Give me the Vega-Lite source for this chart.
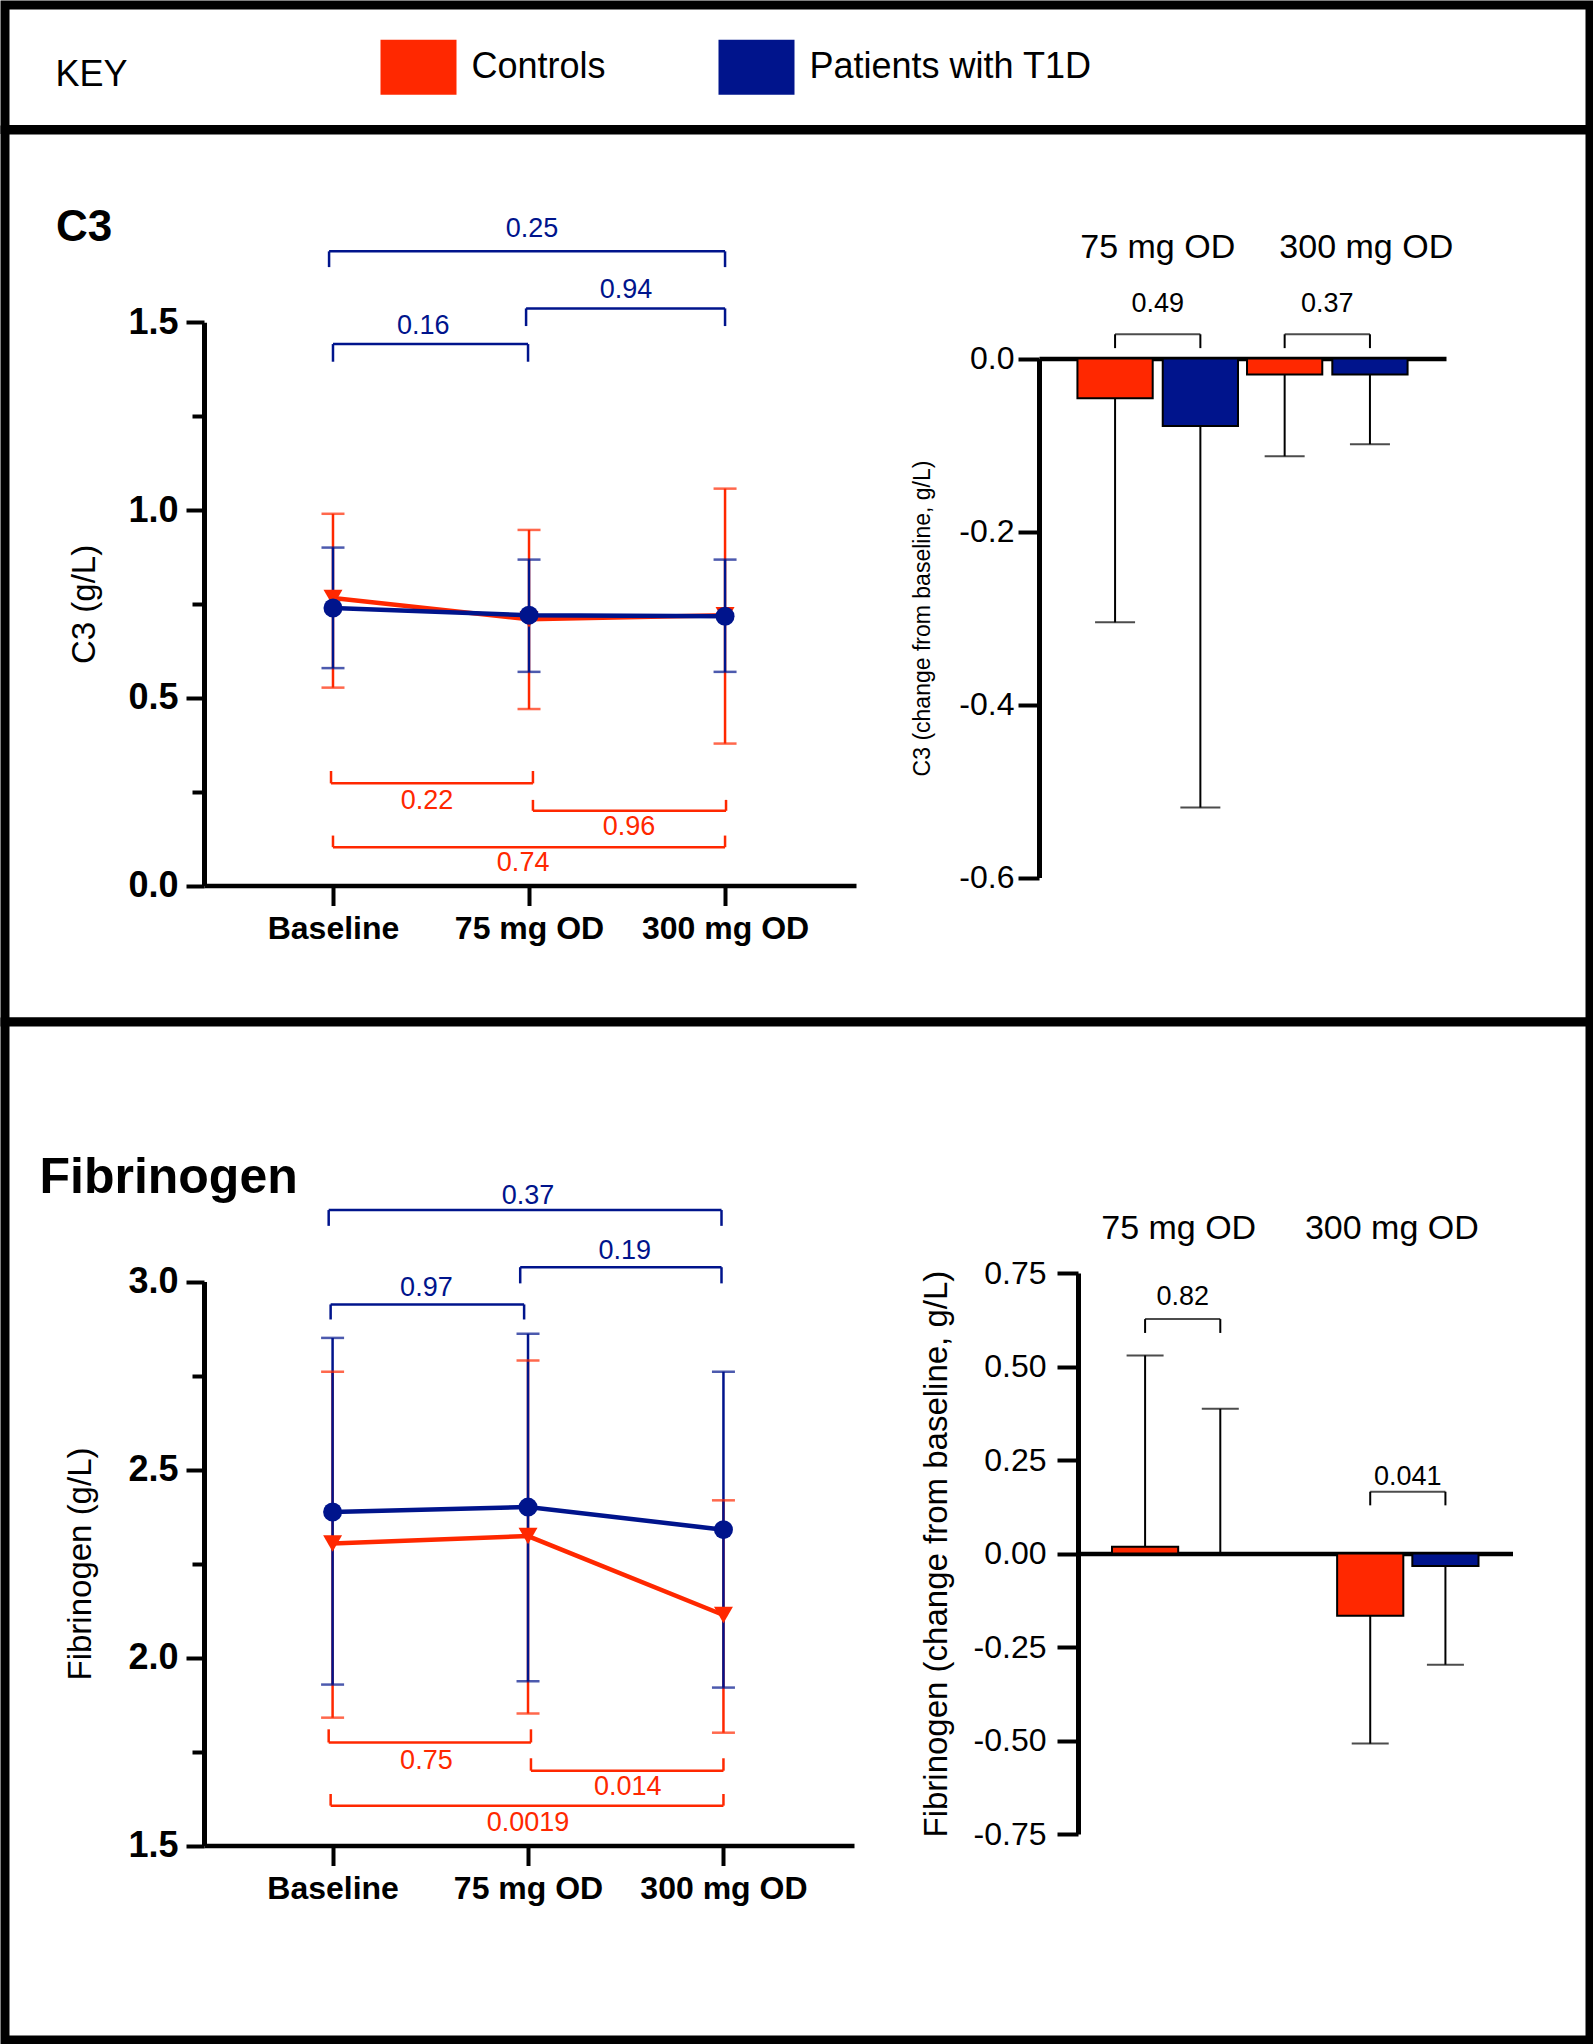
{
  "$schema": "https://vega.github.io/schema/vega-lite/v6.json",
  "padding": 0,
  "spacing": 0,
  "bounds": "flush",
  "background": "white",
  "resolve": {"scale": {"color": "independent", "shape": "independent", "xOffset": "independent"}, "legend": {"color": "independent", "shape": "independent"}},
  "config": {
    "font": "Liberation Sans",
    "axis": {"labelFont": "Liberation Sans", "titleFont": "Liberation Sans", "labelColor": "black", "titleColor": "black", "domainColor": "black", "tickColor": "black", "grid": false, "titleFontWeight": "normal"},
    "text": {"font": "Liberation Sans"}
  },
  "datasets": {
    "groups": [{"group": "Controls"}, {"group": "Patients with T1D"}],
    "c3line": [
      {"t": 0, "group": "Controls", "mean": 0.766, "lo": 0.527, "hi": 0.990},
      {"t": 1, "group": "Controls", "mean": 0.709, "lo": 0.470, "hi": 0.947},
      {"t": 2, "group": "Controls", "mean": 0.720, "lo": 0.378, "hi": 1.057},
      {"t": 0, "group": "Patients with T1D", "mean": 0.739, "lo": 0.579, "hi": 0.900},
      {"t": 1, "group": "Patients with T1D", "mean": 0.720, "lo": 0.569, "hi": 0.868},
      {"t": 2, "group": "Patients with T1D", "mean": 0.717, "lo": 0.569, "hi": 0.868}
    ],
    "c3brk": [
      {"group": "Patients with T1D", "x1": -0.02, "x2": 2.0, "y": 1.689, "yleg": 1.647, "label": "0.25", "xt": 1.015, "yt": 1.749},
      {"group": "Patients with T1D", "x1": 0.985, "x2": 2.0, "y": 1.537, "yleg": 1.49, "label": "0.94", "xt": 1.495, "yt": 1.586},
      {"group": "Patients with T1D", "x1": 0.0, "x2": 0.995, "y": 1.442, "yleg": 1.395, "label": "0.16", "xt": 0.46, "yt": 1.49},
      {"group": "Controls", "x1": -0.01, "x2": 1.02, "y": 0.272, "yleg": 0.305, "label": "0.22", "xt": 0.48, "yt": 0.225},
      {"group": "Controls", "x1": 1.02, "x2": 2.005, "y": 0.199, "yleg": 0.228, "label": "0.96", "xt": 1.51, "yt": 0.155},
      {"group": "Controls", "x1": 0.0, "x2": 2.0, "y": 0.102, "yleg": 0.133, "label": "0.74", "xt": 0.97, "yt": 0.06}
    ],
    "fibline": [
      {"t": 0, "group": "Controls", "mean": 2.303, "lo": 1.84, "hi": 2.76},
      {"t": 1, "group": "Controls", "mean": 2.323, "lo": 1.851, "hi": 2.79},
      {"t": 2, "group": "Controls", "mean": 2.113, "lo": 1.80, "hi": 2.418},
      {"t": 0, "group": "Patients with T1D", "mean": 2.387, "lo": 1.928, "hi": 2.85},
      {"t": 1, "group": "Patients with T1D", "mean": 2.40, "lo": 1.937, "hi": 2.861},
      {"t": 2, "group": "Patients with T1D", "mean": 2.34, "lo": 1.92, "hi": 2.76}
    ],
    "fibbrk": [
      {"group": "Patients with T1D", "x1": -0.02, "x2": 1.99, "y": 3.19, "yleg": 3.148, "label": "0.37", "xt": 1.0, "yt": 3.227},
      {"group": "Patients with T1D", "x1": 0.96, "x2": 1.99, "y": 3.038, "yleg": 2.995, "label": "0.19", "xt": 1.495, "yt": 3.081},
      {"group": "Patients with T1D", "x1": -0.01, "x2": 0.98, "y": 2.939, "yleg": 2.899, "label": "0.97", "xt": 0.48, "yt": 2.982},
      {"group": "Controls", "x1": -0.02, "x2": 1.015, "y": 1.774, "yleg": 1.809, "label": "0.75", "xt": 0.48, "yt": 1.724},
      {"group": "Controls", "x1": 1.015, "x2": 2.0, "y": 1.699, "yleg": 1.732, "label": "0.014", "xt": 1.51, "yt": 1.655},
      {"group": "Controls", "x1": -0.01, "x2": 2.0, "y": 1.606, "yleg": 1.637, "label": "0.0019", "xt": 1.0, "yt": 1.56}
    ],
    "c3bar": [
      {"dose": "75 mg OD", "group": "Controls", "val": -0.046, "err": -0.305},
      {"dose": "75 mg OD", "group": "Patients with T1D", "val": -0.078, "err": -0.519},
      {"dose": "300 mg OD", "group": "Controls", "val": -0.0185, "err": -0.113},
      {"dose": "300 mg OD", "group": "Patients with T1D", "val": -0.0185, "err": -0.099}
    ],
    "c3barbrk": [
      {"dose": "75 mg OD", "group": "Controls", "top": 0.028, "leg": 0.012, "label": "0.49", "ylab": 0.0628},
      {"dose": "75 mg OD", "group": "Patients with T1D", "top": 0.028, "leg": 0.012, "label": "0.49", "ylab": 0.0628},
      {"dose": "300 mg OD", "group": "Controls", "top": 0.028, "leg": 0.012, "label": "0.37", "ylab": 0.0628},
      {"dose": "300 mg OD", "group": "Patients with T1D", "top": 0.028, "leg": 0.012, "label": "0.37", "ylab": 0.0628}
    ],
    "fibbar": [
      {"dose": "75 mg OD", "group": "Controls", "val": 0.018, "err": 0.53},
      {"dose": "75 mg OD", "group": "Patients with T1D", "val": 0.0, "err": 0.387},
      {"dose": "300 mg OD", "group": "Controls", "val": -0.166, "err": -0.508},
      {"dose": "300 mg OD", "group": "Patients with T1D", "val": -0.033, "err": -0.297}
    ],
    "fibbarbrk": [
      {"dose": "75 mg OD", "group": "Controls", "top": 0.627, "leg": 0.59, "label": "0.82", "ylab": 0.685},
      {"dose": "75 mg OD", "group": "Patients with T1D", "top": 0.627, "leg": 0.59, "label": "0.82", "ylab": 0.685},
      {"dose": "300 mg OD", "group": "Controls", "top": 0.1655, "leg": 0.129, "label": "0.041", "ylab": 0.206},
      {"dose": "300 mg OD", "group": "Patients with T1D", "top": 0.1655, "leg": 0.129, "label": "0.041", "ylab": 0.206}
    ]
  },
  "vconcat": [
    {
      "width": 1585,
      "height": 124.5,
      "view": {"stroke": "black", "strokeWidth": 9, "fill": "white"},
      "data": {"name": "groups"},
      "mark": {"type": "text", "text": ""},
      "encoding": {
        "color": {
          "field": "group", "type": "nominal",
          "scale": {"domain": ["Controls", "Patients with T1D"], "range": ["#FF2800", "#00148C"]},
          "legend": {
            "title": "KEY", "orient": "none", "legendX": 50.5, "legendY": 24, "direction": "horizontal",
            "titleOrient": "left", "titleAngle": 0, "titleAnchor": "middle", "titleBaseline": "line-top", "titleLineHeight": 28,
            "titleFontSize": 36, "titleFontWeight": "normal", "titleFont": "Liberation Sans", "titleColor": "black", "titlePadding": 252,
            "labelFont": "Liberation Sans", "labelFontSize": 36, "labelColor": "black", "labelOffset": 15, "labelLimit": 600,
            "columnPadding": 112, "symbolType": "M-1,-0.724H1V0.724H-1Z", "symbolSize": 5776, "symbolStrokeWidth": 0, "symbolOpacity": 1
          }
        }
      }
    },
    {
      "width": 1585,
      "height": 892,
      "view": {"stroke": "black", "strokeWidth": 9, "fill": "white"},
      "resolve": {"scale": {"x": "independent", "y": "independent", "xOffset": "independent"}, "axis": {"x": "independent", "y": "independent"}},
      "layer": [
        {
          "layer": [
            {
              "data": {"name": "c3line"},
              "mark": {"type": "rule", "strokeWidth": 2.5},
              "encoding": {
                "x": {"field": "t", "type": "quantitative",
                  "scale": {"domain": [-0.658, 2.668], "range": [199, 851], "nice": false, "zero": false},
                  "axis": {"orient": "bottom", "offset": -136.5, "values": [0, 1, 2], "labelExpr": "['Baseline','75 mg OD','300 mg OD'][datum.value]", "title": null, "domainWidth": 4.5, "tickWidth": 4, "tickSize": 20, "labelFontSize": 32, "labelFontWeight": "bold", "labelPadding": 8, "labelFlush": false, "labelOverlap": false}},
                "y": {"field": "lo", "type": "quantitative",
                  "scale": {"domain": [0, 1.5], "range": [755.5, 192.3], "nice": false, "zero": false},
                  "axis": {"orient": "left", "offset": -199, "values": [0, 0.25, 0.5, 0.75, 1, 1.25, 1.5], "labelExpr": "datum.value % 0.5 == 0 ? format(datum.value, '.1f') : ''", "tickSize": {"condition": {"test": "datum.value % 0.5 != 0", "value": 12}, "value": 18}, "tickWidth": 4, "domainWidth": 5, "labelFontSize": 36, "labelFontWeight": "bold", "labelPadding": 8, "labelFlush": false, "labelOverlap": false, "title": "C3 (g/L)", "titleFontSize": 33, "titlePadding": 26}},
                "y2": {"field": "hi"},
                "color": {"field": "group", "type": "nominal", "scale": {"domain": ["Controls", "Patients with T1D"], "range": ["#FF2800", "#00148C"]}, "legend": null}
              }
            },
            {
              "data": {"name": "c3line"},
              "mark": {"type": "tick", "orient": "horizontal", "size": 23, "thickness": 2.5},
              "encoding": {"x": {"field": "t", "type": "quantitative"}, "y": {"field": "lo", "type": "quantitative"}, "color": {"field": "group", "type": "nominal", "legend": null}}
            },
            {
              "data": {"name": "c3line"},
              "mark": {"type": "tick", "orient": "horizontal", "size": 23, "thickness": 2.5},
              "encoding": {"x": {"field": "t", "type": "quantitative"}, "y": {"field": "hi", "type": "quantitative"}, "color": {"field": "group", "type": "nominal", "legend": null}}
            },
            {
              "data": {"name": "c3line"},
              "mark": {"type": "line", "strokeWidth": 4.5},
              "encoding": {"x": {"field": "t", "type": "quantitative"}, "y": {"field": "mean", "type": "quantitative"}, "color": {"field": "group", "type": "nominal", "legend": null}}
            },
            {
              "data": {"name": "c3line"},
              "mark": {"type": "point", "filled": true, "size": 360, "opacity": 1},
              "encoding": {"x": {"field": "t", "type": "quantitative"}, "y": {"field": "mean", "type": "quantitative"}, "color": {"field": "group", "type": "nominal", "legend": null},
                "shape": {"field": "group", "type": "nominal", "scale": {"domain": ["Controls", "Patients with T1D"], "range": ["triangle-down", "circle"]}, "legend": null}}
            },
            {
              "data": {"name": "c3brk"},
              "mark": {"type": "rule", "strokeWidth": 2.5},
              "encoding": {"x": {"field": "x1", "type": "quantitative"}, "x2": {"field": "x2"}, "y": {"field": "y", "type": "quantitative"}, "color": {"field": "group", "type": "nominal", "legend": null}}
            },
            {
              "data": {"name": "c3brk"},
              "mark": {"type": "rule", "strokeWidth": 2.5},
              "encoding": {"x": {"field": "x1", "type": "quantitative"}, "y": {"field": "y", "type": "quantitative"}, "y2": {"field": "yleg"}, "color": {"field": "group", "type": "nominal", "legend": null}}
            },
            {
              "data": {"name": "c3brk"},
              "mark": {"type": "rule", "strokeWidth": 2.5},
              "encoding": {"x": {"field": "x2", "type": "quantitative"}, "y": {"field": "y", "type": "quantitative"}, "y2": {"field": "yleg"}, "color": {"field": "group", "type": "nominal", "legend": null}}
            },
            {
              "data": {"name": "c3brk"},
              "mark": {"type": "text", "fontSize": 27, "align": "center", "baseline": "middle"},
              "encoding": {"x": {"field": "xt", "type": "quantitative"}, "y": {"field": "yt", "type": "quantitative"}, "text": {"field": "label"}, "color": {"field": "group", "type": "nominal", "legend": null}}
            },
            {
              "data": {"values": [{"h": "C3", "hx": -1.413, "hy": 1.75}]},
              "mark": {"type": "text", "fontSize": 44, "fontWeight": "bold", "align": "left", "baseline": "middle", "color": "black"},
              "encoding": {"x": {"field": "hx", "type": "quantitative"}, "y": {"field": "hy", "type": "quantitative"}, "text": {"field": "h"}}
            }
          ]
        },
        {
          "resolve": {"axis": {"x": "independent"}},
          "layer": [
            {
              "data": {"name": "c3bar"},
              "mark": {"type": "bar", "stroke": "black", "strokeWidth": 2},
              "encoding": {
                "x": {"field": "dose", "type": "nominal",
                  "scale": {"type": "band", "domain": ["75 mg OD", "300 mg OD"], "range": [1034, 1441], "paddingInner": 0, "paddingOuter": 0.2},
                  "axis": {"orient": "top", "offset": -117.5, "domain": false, "ticks": false, "tickSize": 0, "labelPadding": 0, "labelBaseline": "middle", "labelAngle": 0, "labelFontSize": 34, "title": null,
                    "labelOffset": {"condition": {"test": "datum.value == '300 mg OD'", "value": 39}, "value": 0}}},
                "xOffset": {"field": "group", "type": "nominal", "scale": {"domain": ["Controls", "Patients with T1D"], "range": [0, 169.6], "paddingInner": 0.1176, "paddingOuter": 0.053}},
                "y": {"field": "val", "type": "quantitative",
                  "scale": {"domain": [-0.6, 0], "range": [747.5, 228.5], "nice": false, "zero": false},
                  "axis": {"orient": "left", "offset": -1034, "values": [-0.6, -0.4, -0.2, 0], "labelExpr": "replace(format(datum.value, '.1f'), '\u2212', '-')", "tickSize": 21, "tickWidth": 4, "domainWidth": 5, "labelFontSize": 32, "labelPadding": 4, "labelFlush": false, "labelOverlap": false, "title": "C3 (change from baseline, g/L)", "titleFontSize": 23, "titlePadding": 24}},
                "y2": {"datum": 0},
                "color": {"field": "group", "type": "nominal", "legend": null}
              }
            },
            {
              "data": {"name": "c3bar"},
              "mark": {"type": "rule", "strokeWidth": 2, "color": "black"},
              "encoding": {
                "x": {"field": "dose", "type": "nominal", "axis": {"orient": "bottom", "offset": -663.5, "labels": false, "ticks": false, "domain": true, "domainWidth": 4.5, "title": null}},
                "xOffset": {"field": "group", "type": "nominal"},
                "y": {"field": "val", "type": "quantitative"}, "y2": {"field": "err"}
              }
            },
            {
              "data": {"name": "c3bar"},
              "mark": {"type": "tick", "orient": "horizontal", "size": 40, "thickness": 2, "color": "black"},
              "encoding": {"x": {"field": "dose", "type": "nominal", "axis": null}, "xOffset": {"field": "group", "type": "nominal"}, "y": {"field": "err", "type": "quantitative"}}
            },
            {
              "data": {"name": "c3barbrk"},
              "mark": {"type": "rule", "strokeWidth": 2, "color": "black"},
              "encoding": {"x": {"field": "dose", "type": "nominal", "axis": null}, "xOffset": {"field": "group", "type": "nominal"}, "y": {"field": "top", "type": "quantitative"}, "y2": {"field": "leg"}}
            },
            {
              "data": {"name": "c3barbrk"},
              "transform": [{"filter": "datum.group == 'Controls'"}],
              "mark": {"type": "tick", "orient": "horizontal", "size": 85.3, "thickness": 2, "color": "black"},
              "encoding": {"x": {"field": "dose", "type": "nominal", "axis": null}, "y": {"field": "top", "type": "quantitative"}}
            },
            {
              "data": {"name": "c3barbrk"},
              "transform": [{"filter": "datum.group == 'Controls'"}],
              "mark": {"type": "text", "fontSize": 27, "align": "center", "baseline": "middle", "color": "black"},
              "encoding": {"x": {"field": "dose", "type": "nominal", "axis": null}, "y": {"field": "ylab", "type": "quantitative"}, "text": {"field": "label"}}
            }
          ]
        }
      ]
    },
    {
      "width": 1585,
      "height": 1018,
      "view": {"stroke": "black", "strokeWidth": 9, "fill": "white"},
      "resolve": {"scale": {"x": "independent", "y": "independent", "xOffset": "independent"}, "axis": {"x": "independent", "y": "independent"}},
      "layer": [
        {
          "layer": [
            {
              "data": {"name": "fibline"},
              "mark": {"type": "rule", "strokeWidth": 2.5},
              "encoding": {
                "x": {"field": "t", "type": "quantitative",
                  "scale": {"domain": [-0.658, 2.668], "range": [199, 849], "nice": false, "zero": false},
                  "axis": {"orient": "bottom", "offset": -194.5, "values": [0, 1, 2], "labelExpr": "['Baseline','75 mg OD','300 mg OD'][datum.value]", "title": null, "domainWidth": 4.5, "tickWidth": 4, "tickSize": 20, "labelFontSize": 32, "labelFontWeight": "bold", "labelPadding": 8, "labelFlush": false, "labelOverlap": false}},
                "y": {"field": "lo", "type": "quantitative",
                  "scale": {"domain": [1.5, 3.0], "range": [823.5, 259.5], "nice": false, "zero": false},
                  "axis": {"orient": "left", "offset": -199, "values": [1.5, 1.75, 2, 2.25, 2.5, 2.75, 3], "labelExpr": "datum.value % 0.5 == 0 ? format(datum.value, '.1f') : ''", "tickSize": {"condition": {"test": "datum.value % 0.5 != 0", "value": 12}, "value": 18}, "tickWidth": 4, "domainWidth": 5, "labelFontSize": 36, "labelFontWeight": "bold", "labelPadding": 8, "labelFlush": false, "labelOverlap": false, "title": "Fibrinogen (g/L)", "titleFontSize": 33, "titlePadding": 30}},
                "y2": {"field": "hi"},
                "color": {"field": "group", "type": "nominal", "scale": {"domain": ["Controls", "Patients with T1D"], "range": ["#FF2800", "#00148C"]}, "legend": null}
              }
            },
            {
              "data": {"name": "fibline"},
              "mark": {"type": "tick", "orient": "horizontal", "size": 23, "thickness": 2.5},
              "encoding": {"x": {"field": "t", "type": "quantitative"}, "y": {"field": "lo", "type": "quantitative"}, "color": {"field": "group", "type": "nominal", "legend": null}}
            },
            {
              "data": {"name": "fibline"},
              "mark": {"type": "tick", "orient": "horizontal", "size": 23, "thickness": 2.5},
              "encoding": {"x": {"field": "t", "type": "quantitative"}, "y": {"field": "hi", "type": "quantitative"}, "color": {"field": "group", "type": "nominal", "legend": null}}
            },
            {
              "data": {"name": "fibline"},
              "mark": {"type": "line", "strokeWidth": 4.5},
              "encoding": {"x": {"field": "t", "type": "quantitative"}, "y": {"field": "mean", "type": "quantitative"}, "color": {"field": "group", "type": "nominal", "legend": null}}
            },
            {
              "data": {"name": "fibline"},
              "mark": {"type": "point", "filled": true, "size": 360, "opacity": 1},
              "encoding": {"x": {"field": "t", "type": "quantitative"}, "y": {"field": "mean", "type": "quantitative"}, "color": {"field": "group", "type": "nominal", "legend": null},
                "shape": {"field": "group", "type": "nominal", "scale": {"domain": ["Controls", "Patients with T1D"], "range": ["triangle-down", "circle"]}, "legend": null}}
            },
            {
              "data": {"name": "fibbrk"},
              "mark": {"type": "rule", "strokeWidth": 2.5},
              "encoding": {"x": {"field": "x1", "type": "quantitative"}, "x2": {"field": "x2"}, "y": {"field": "y", "type": "quantitative"}, "color": {"field": "group", "type": "nominal", "legend": null}}
            },
            {
              "data": {"name": "fibbrk"},
              "mark": {"type": "rule", "strokeWidth": 2.5},
              "encoding": {"x": {"field": "x1", "type": "quantitative"}, "y": {"field": "y", "type": "quantitative"}, "y2": {"field": "yleg"}, "color": {"field": "group", "type": "nominal", "legend": null}}
            },
            {
              "data": {"name": "fibbrk"},
              "mark": {"type": "rule", "strokeWidth": 2.5},
              "encoding": {"x": {"field": "x2", "type": "quantitative"}, "y": {"field": "y", "type": "quantitative"}, "y2": {"field": "yleg"}, "color": {"field": "group", "type": "nominal", "legend": null}}
            },
            {
              "data": {"name": "fibbrk"},
              "mark": {"type": "text", "fontSize": 27, "align": "center", "baseline": "middle"},
              "encoding": {"x": {"field": "xt", "type": "quantitative"}, "y": {"field": "yt", "type": "quantitative"}, "text": {"field": "label"}, "color": {"field": "group", "type": "nominal", "legend": null}}
            },
            {
              "data": {"values": [{"h": "Fibrinogen", "hx": -1.5, "hy": 3.274}]},
              "mark": {"type": "text", "fontSize": 50, "fontWeight": "bold", "align": "left", "baseline": "middle", "color": "black"},
              "encoding": {"x": {"field": "hx", "type": "quantitative"}, "y": {"field": "hy", "type": "quantitative"}, "text": {"field": "h"}}
            }
          ]
        },
        {
          "resolve": {"axis": {"x": "independent"}},
          "layer": [
            {
              "data": {"name": "fibbar"},
              "mark": {"type": "bar", "stroke": "black", "strokeWidth": 2},
              "encoding": {
                "x": {"field": "dose", "type": "nominal",
                  "scale": {"type": "band", "domain": ["75 mg OD", "300 mg OD"], "range": [1073, 1507.5], "paddingInner": 0.332, "paddingOuter": 0.131},
                  "axis": {"orient": "top", "offset": -206.1, "domain": false, "ticks": false, "tickSize": 0, "labelPadding": 0, "labelBaseline": "middle", "labelAngle": 0, "labelFontSize": 34, "title": null,
                    "labelOffset": {"condition": {"test": "datum.value == '300 mg OD'", "value": -16}, "value": -4}}},
                "xOffset": {"field": "group", "type": "nominal", "scale": {"domain": ["Controls", "Patients with T1D"], "range": [0, 150.4], "paddingInner": 0.12, "paddingOuter": 0.06}},
                "y": {"field": "val", "type": "quantitative",
                  "scale": {"domain": [-0.75, 0.75], "range": [812.1, 251.1], "nice": false, "zero": false},
                  "axis": {"orient": "left", "offset": -1073, "values": [-0.75, -0.5, -0.25, 0, 0.25, 0.5, 0.75], "labelExpr": "replace(format(datum.value, '.2f'), '\u2212', '-')", "tickSize": 21, "tickWidth": 4, "domainWidth": 5, "labelFontSize": 32, "labelPadding": 11, "labelFlush": false, "labelOverlap": false, "title": "Fibrinogen (change from baseline, g/L)", "titleFontSize": 33, "titlePadding": 20}},
                "y2": {"datum": 0},
                "color": {"field": "group", "type": "nominal", "legend": null}
              }
            },
            {
              "data": {"name": "fibbar"},
              "mark": {"type": "rule", "strokeWidth": 2, "color": "black"},
              "encoding": {
                "x": {"field": "dose", "type": "nominal", "axis": {"orient": "bottom", "offset": -486.4, "labels": false, "ticks": false, "domain": true, "domainWidth": 4.5, "title": null}},
                "xOffset": {"field": "group", "type": "nominal"},
                "y": {"field": "val", "type": "quantitative"}, "y2": {"field": "err"}
              }
            },
            {
              "data": {"name": "fibbar"},
              "mark": {"type": "tick", "orient": "horizontal", "size": 37, "thickness": 2, "color": "black"},
              "encoding": {"x": {"field": "dose", "type": "nominal", "axis": null}, "xOffset": {"field": "group", "type": "nominal"}, "y": {"field": "err", "type": "quantitative"}}
            },
            {
              "data": {"name": "fibbarbrk"},
              "mark": {"type": "rule", "strokeWidth": 2, "color": "black"},
              "encoding": {"x": {"field": "dose", "type": "nominal", "axis": null}, "xOffset": {"field": "group", "type": "nominal"}, "y": {"field": "top", "type": "quantitative"}, "y2": {"field": "leg"}}
            },
            {
              "data": {"name": "fibbarbrk"},
              "transform": [{"filter": "datum.group == 'Controls'"}],
              "mark": {"type": "tick", "orient": "horizontal", "size": 75.2, "thickness": 2, "color": "black"},
              "encoding": {"x": {"field": "dose", "type": "nominal", "axis": null}, "y": {"field": "top", "type": "quantitative"}}
            },
            {
              "data": {"name": "fibbarbrk"},
              "transform": [{"filter": "datum.group == 'Controls'"}],
              "mark": {"type": "text", "fontSize": 27, "align": "center", "baseline": "middle", "color": "black"},
              "encoding": {"x": {"field": "dose", "type": "nominal", "axis": null}, "y": {"field": "ylab", "type": "quantitative"}, "text": {"field": "label"}}
            }
          ]
        }
      ]
    }
  ]
}
